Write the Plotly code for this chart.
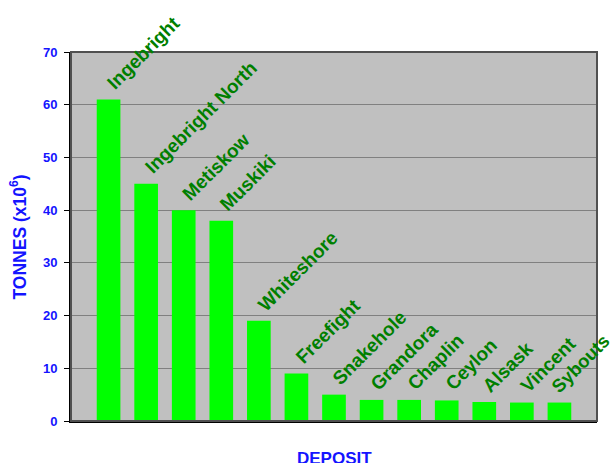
import plotly.graph_objects as go

deposits = ["Ingebright", "Ingebright North", "Metiskow", "Muskiki", "Whiteshore",
            "Freefight", "Snakehole", "Grandora", "Chaplin", "Ceylon", "Alsask",
            "Vincent", "Sybouts"]
tonnes = [61, 45, 40, 38, 19, 9, 5, 4, 4, 3.9, 3.6, 3.5, 3.5]
y_ticks = [0, 10, 20, 30, 40, 50, 60, 70]

FONT = "Liberation Sans, Arial"
xs = list(range(len(deposits)))
fig = go.Figure()
fig.add_trace(go.Bar(x=xs, y=tonnes, marker=dict(color="#00FF00", line=dict(width=0)),
                     width=0.63, hoverinfo="skip"))

for x, name, v in zip(xs, deposits, tonnes):
    last = x == len(deposits) - 1
    fig.add_annotation(x=x, y=v, text="<b>%s</b>" % name, showarrow=False, textangle=-45,
                       xanchor="left", yanchor="bottom", xshift=-15 if last else -8,
                       yshift=3,
                       font=dict(family=FONT, size=18.5 if last else 19, color="#007F00"))

blue = "#1414FF"
fig.add_annotation(xref="paper", yref="paper", x=0, y=0.5, xshift=-53, yshift=-1,
                   text="<b>TONNES (x10<sup>6</sup>)</b>", showarrow=False, textangle=-90,
                   xanchor="center", yanchor="middle",
                   font=dict(family=FONT, size=17.5, color=blue))
fig.add_annotation(xref="paper", yref="paper", x=0.5, y=0, yshift=-37,
                   text="<b>DEPOSIT</b>", showarrow=False,
                   xanchor="center", yanchor="middle",
                   font=dict(family=FONT, size=17, color=blue))

fig.add_shape(type="rect", xref="paper", yref="paper", x0=0, y0=0, x1=1, y1=1,
              line=dict(color="#505050", width=2), layer="above")

fig.update_layout(
    width=616, height=463,
    margin=dict(l=71, r=19, t=52, b=42),
    paper_bgcolor="white", plot_bgcolor="#C0C0C0",
    showlegend=False,
    xaxis=dict(range=[-1, 13], showticklabels=False, showgrid=False, zeroline=False,
               showline=True, linecolor="black", linewidth=2, ticks="", fixedrange=True),
    yaxis=dict(range=[0, 70], tickvals=y_ticks, showgrid=True, gridcolor="#808080",
               gridwidth=1, zeroline=False, showline=True, linecolor="black", linewidth=2,
               ticks="outside", ticklen=5, tickcolor="black", ticklabelstandoff=4,
               tickfont=dict(family=FONT, size=13, color=blue, weight="bold")),
)
fig.write_html("out.html", config={"displayModeBar": False},
               post_script="document.body.style.margin='0';")
